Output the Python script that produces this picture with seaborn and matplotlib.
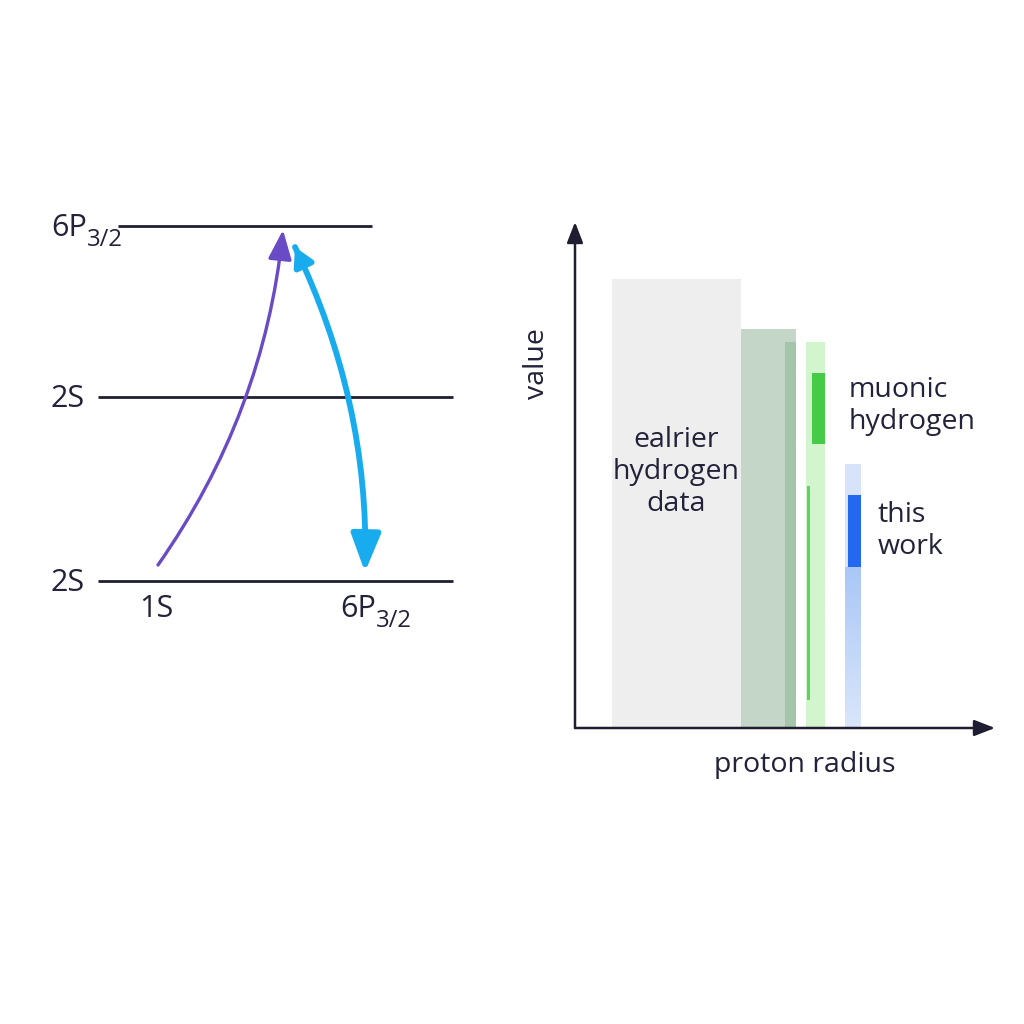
import numpy as np
import matplotlib
matplotlib.use("Agg")
import matplotlib.pyplot as plt
from matplotlib.patches import FancyArrowPatch
from matplotlib.colors import LinearSegmentedColormap
import seaborn as sns

# energy level schematic (arbitrary energy units)
level_names = ["2S", "2S", "6P"]
level_subs = ["", "", "3/2"]
level_energy = [0.0, 1.0, 1.93]
level_x_start = [98, 98, 118]
level_x_end = [453, 453, 372]

# transitions: (x_start, E_start, x_end, E_end)
excite_path = [158, 0.087, 283, 1.908]
decay_path = [295, 1.815, 365, 0.049]

# proton radius comparison bands: left edge, width, bottom, top
band_names = ["earlier", "earlier_core", "earlier_edge", "muonic_env", "muonic", "muonic_tail", "this_env", "this_work"]
band_left = [3.7, 16.6, 21.0, 23.1, 23.7, 23.2, 27.0, 27.3]
band_width = [12.9, 5.5, 1.1, 1.9, 1.3, 0.3, 1.6, 1.3]
band_bottom = [0.0, 0.0, 0.0, 0.0, 28.4, 2.8, 0.0, 16.1]
band_top = [44.9, 39.9, 38.6, 38.6, 35.5, 24.2, 26.4, 23.3]
band_colors = ["#eeeeee", "#c3d6c8", "#a3c5aa", "#d2f5cd", "#46cb46", "#5fd35f", "#d6e3fb", "#2468f0"]

sns.set_theme(style="white")
plt.rcParams["font.family"] = ["Open Sans", "DejaVu Sans"]

ink = "#22223a"
fig = plt.figure(figsize=(10.24, 10.24), dpi=100)
fig.patch.set_facecolor("white")


def state_label(ax, x, y, main, sub, size=22):
    t = ax.text(x, y, main, fontsize=size, color=ink, ha="left", va="center", zorder=3)
    if sub:
        ax.annotate(sub, xy=(1, 0), xycoords=t, xytext=(0, 2), textcoords="offset points",
                    fontsize=size * 0.78, color=ink, ha="left", va="center", zorder=3)
    return t


# ---- left: level diagram ----
axl = fig.add_axes([0, 0, 0.5, 1])
axl.set_xlim(0, 512)
axl.set_ylim((581 - 1024) / 184, 581 / 184)
axl.axis("off")

for name, sub, e, x0, x1 in zip(level_names, level_subs, level_energy, level_x_start, level_x_end):
    axl.plot([x0, x1], [e, e], color="#1f1f33", lw=2.0, solid_capstyle="butt", zorder=1)
    state_label(axl, 51, e - 0.012, name, sub)

state_label(axl, 139, -0.15, "1S", "")
state_label(axl, 340, -0.15, "6P", "3/2")

xs, es, xe, ee = excite_path
axl.add_patch(FancyArrowPatch((xs, es), (xe, ee), connectionstyle="arc3,rad=0.13",
                              arrowstyle="-|>,head_length=1.0,head_width=0.4",
                              mutation_scale=18, lw=2.4, color="#6a4bc6",
                              shrinkA=0, shrinkB=0, capstyle="round", zorder=2))

xs, es, xe, ee = decay_path
axl.add_patch(FancyArrowPatch((xs, es), (xe, ee), connectionstyle="arc3,rad=-0.12",
                              arrowstyle="-|>,head_length=1.15,head_width=0.45",
                              mutation_scale=20, lw=4.2, color="#18acef",
                              shrinkA=0, shrinkB=0, zorder=2))
axl.add_patch(FancyArrowPatch((xs + 8, es - 0.09), (xs, es),
                              arrowstyle="-|>,head_length=0.9,head_width=0.5",
                              mutation_scale=12, lw=4.2, color="#18acef",
                              shrinkA=0, shrinkB=0, zorder=2))

# ---- right: proton radius comparison ----
axr = fig.add_axes([575 / 1024, (1024 - 728) / 1024, (995 - 575) / 1024, (728 - 222) / 1024])
sns.despine(ax=axr, left=True, bottom=True)
axr.set_xticks([])
axr.set_yticks([])
axr.patch.set_alpha(0)

axr.bar(band_left, np.array(band_top) - np.array(band_bottom), width=band_width,
        bottom=band_bottom, align="edge", color=band_colors, linewidth=0, zorder=2)

# gradient below "this work" band
grad = LinearSegmentedColormap.from_list("bl", ["#d9e6fb", "#aac7f6"])
i = band_names.index("this_work")
j = band_names.index("this_env")
axr.imshow(np.linspace(0, 1, 50).reshape(-1, 1), cmap=grad, aspect="auto", origin="lower",
           extent=[band_left[j], band_left[j] + band_width[j], 0, band_bottom[i]], zorder=2.5)
axr.set_xlim(0, 42)
axr.set_ylim(0, 50.6)

axr.text(10.1, 25.6, "ealrier\nhydrogen\ndata", fontsize=20.5, color=ink, ha="center",
         va="center", linespacing=1.18, zorder=4)
axr.text(27.4, 32.2, "muonic\nhydrogen", fontsize=20.5, color=ink, ha="left",
         va="center", linespacing=1.18, zorder=4)
axr.text(30.3, 19.7, "this\nwork", fontsize=20.5, color=ink, ha="left",
         va="center", linespacing=1.18, zorder=4)

for tip in [(0, 1), (1, 0)]:
    axr.annotate("", xy=tip, xytext=(0, 0), xycoords="axes fraction",
                 arrowprops=dict(arrowstyle="-|>,head_length=0.9,head_width=0.35",
                                 mutation_scale=14, lw=1.8, color="#1e1e30",
                                 shrinkA=0, shrinkB=0), annotation_clip=False, zorder=5)

axr.text(-0.09, 0.72, "value", rotation=90, fontsize=20.5, color=ink, ha="center",
         va="center", transform=axr.transAxes)
axr.text(0.548, -0.073, "proton radius", fontsize=20.5, color=ink, ha="center",
         va="center", transform=axr.transAxes)

fig.savefig("out.png", dpi=100, facecolor="white")
